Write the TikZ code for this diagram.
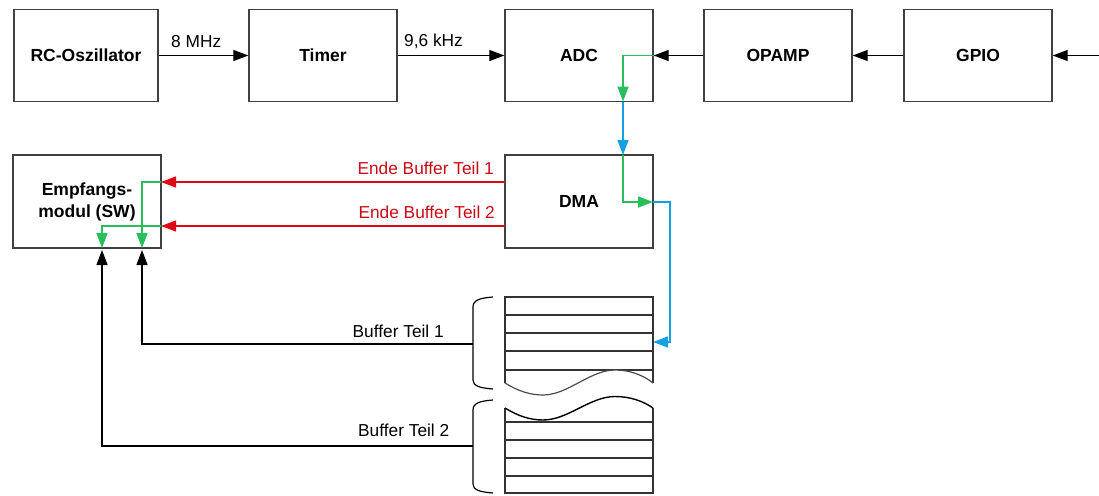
\documentclass[tikz,border=0pt]{standalone}
\usepackage{fontspec}
\setmainfont{Liberation Sans}
\usetikzlibrary{arrows.meta}
\definecolor{boxgray}{RGB}{64,64,64}
\definecolor{lgreen}{RGB}{40,190,90}
\definecolor{lblue}{RGB}{20,160,225}
\definecolor{lred}{RGB}{220,10,20}
\definecolor{tred}{RGB}{200,10,20}
\begin{document}
\begin{tikzpicture}[x=1pt,y=-1pt,
  blockbox/.style={draw=boxgray,line width=1.3pt,fill=white,minimum width=148pt,minimum height=92pt,inner sep=0pt,font=\fontsize{17.5}{20}\selectfont\bfseries,align=center},
  tip/.style={-{Triangle[length=15pt,width=11pt]}},
  blk/.style={tip,line width=1.2pt,black},
  grn/.style={tip,line width=1.6pt,lgreen},
  blu/.style={tip,line width=1.3pt,lblue},
  rd/.style={tip,line width=1.2pt,lred},
  lbl/.style={inner sep=0pt,font=\fontsize{17.3}{20}\selectfont},
  buf/.style={draw=black!80,line width=1.2pt},
  brace/.style={draw=black,line width=1.2pt}]
\useasboundingbox (0,0) rectangle (1099,495);

% boxes
\node[blockbox,minimum width=144pt] (rc) at (86,55.5) {RC-Oszillator};
\node[blockbox] (timer) at (323,55.5) {Timer};
\node[blockbox] (adc) at (579,55.5) {ADC};
\node[blockbox] (opamp) at (778,55.5) {OPAMP};
\node[blockbox] (gpio) at (978,55.5) {GPIO};
\node[blockbox,minimum height=93pt] (dma) at (579,201.5) {DMA};
\node[blockbox,minimum height=93pt] (emp) at (87,201.5) {Empfangs-\\[2pt]modul (SW)};

% top chain
\coordinate (inp) at (1099,55.5);
\draw[blk] (rc.east) -- (timer.west);
\draw[blk] (timer.east) -- (adc.west);
\draw[blk] (opamp.west) -- (adc.east);
\draw[blk] (gpio.west) -- (opamp.east);
\draw[blk] (inp) -- (gpio.east);
\node[lbl,anchor=base west] (l8) at (171,48) {8 MHz};
\node[lbl,anchor=base west] (l96) at (404,47) {9,6 kHz};

% ADC -> DMA
\coordinate (ga) at (623,55.5);
\coordinate (gb) at (623,101.5);
\coordinate (gc) at (623,155);
\coordinate (gd) at (623,202);
\coordinate (ge) at (653,202);
\coordinate (bf) at (670,202);
\coordinate (bg) at (670,342);
\coordinate (bh) at (653,342);
\draw[grn] (adc.east) -- (ga) -- (gb);
\draw[blu] (gb) -- (gc);
\draw[grn] (gc) -- (gd) -- (ge);
\draw[blu] (ge) -- (bf) -- (bg) -- (bh);

% red signals
\coordinate (r1a) at (505,182);
\coordinate (r1b) at (161,182);
\coordinate (r2a) at (505,226);
\coordinate (r2b) at (161,226);
\draw[rd] (r1a) -- (r1b);
\draw[rd] (r2a) -- (r2b);
\node[lbl,text=tred,anchor=base east] (e1) at (494,174) {Ende Buffer Teil 1};
\node[lbl,text=tred,anchor=base east] (e2) at (495,218) {Ende Buffer Teil 2};

% green inside Empfangsmodul
\coordinate (g1c) at (142,182);
\coordinate (g1d) at (142,248);
\coordinate (g2c) at (102,226);
\coordinate (g2d) at (102,248);
\draw[grn] (r1b) -- (g1c) -- (g1d);
\draw[grn] (r2b) -- (g2c) -- (g2d);

% buffer 1
\fill[white] (505,297) rectangle (653,383);
\draw[buf] (505,383) -- (505,297) -- (653,297) -- (653,383);
\foreach \yy in {315,333,351,370} \draw[buf] (505,\yy) -- (653,\yy);
\draw[draw=black!70,line width=1.2pt,fill=white] (505,383) .. controls (518,391) and (530,395) .. (543,395) .. controls (568,395) and (590,370) .. (615,370) .. controls (630,370) and (643,375) .. (653,383);

% buffer 2
\draw[buf] (505,408) -- (505,493) -- (653,493) -- (653,408);
\foreach \yy in {422,440,458,476} \draw[buf] (505,\yy) -- (653,\yy);
\draw[draw=black,line width=1.4pt] (505,408) .. controls (518,416) and (530,420) .. (543,420) .. controls (568,420) and (590,396.5) .. (615,396.5) .. controls (630,396.5) and (643,401) .. (653,408);

% braces
\draw[brace] (493,297) .. controls (480,298) and (473,300) .. (473,307) -- (473,380) .. controls (473,386) and (480,388) .. (493,389);
\draw[brace] (493,400) .. controls (480,401) and (473,403) .. (473,410) -- (473,484) .. controls (473,490) and (480,492) .. (493,493);
\coordinate (b1) at (473,344);
\coordinate (b2) at (473,446);
\coordinate (b1c) at (142,344);
\coordinate (b1d) at (142,250);
\coordinate (b2c) at (102,446);
\coordinate (b2d) at (102,250);
\draw[blk] (b1) -- (b1c) -- (b1d);
\draw[blk] (b2) -- (b2c) -- (b2d);
\node[lbl,anchor=base west] (t1) at (352.5,337) {Buffer Teil 1};
\node[lbl,anchor=base west] (t2) at (358,436) {Buffer Teil 2};
\end{tikzpicture}
\end{document}
